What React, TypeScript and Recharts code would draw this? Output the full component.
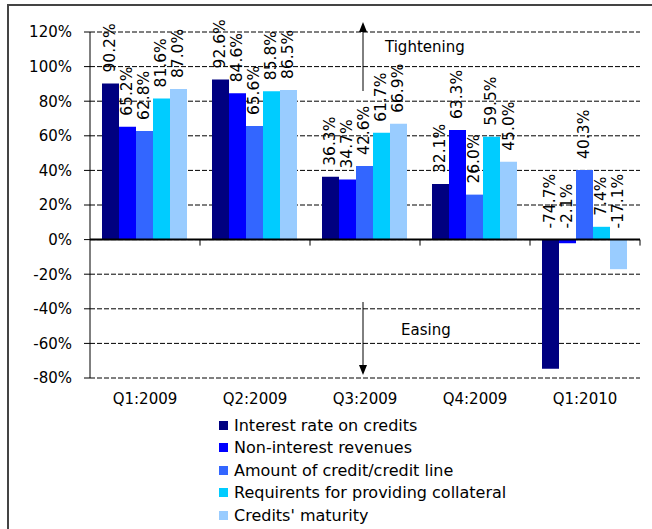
import React from "react";
import {
  BarChart,
  Bar,
  XAxis,
  YAxis,
  CartesianGrid,
  Legend,
  LabelList,
  ReferenceLine,
} from "recharts";

const categories = ["Q1:2009", "Q2:2009", "Q3:2009", "Q4:2009", "Q1:2010"];
const interestRate = [90.2, 92.6, 36.3, 32.1, -74.7];
const nonInterest = [65.2, 84.6, 34.7, 63.3, -2.1];
const creditAmount = [62.8, 65.6, 42.6, 26.0, 40.3];
const collateral = [81.6, 85.8, 61.7, 59.5, 7.4];
const maturity = [87.0, 86.5, 66.9, 45.0, -17.1];
const yTicks = [-80, -60, -40, -20, 0, 20, 40, 60, 80, 100, 120];

const series = [
  { key: "interestRate", name: "Interest rate on credits", color: "#000080" },
  { key: "nonInterest", name: "Non-interest revenues", color: "#0000FF" },
  { key: "creditAmount", name: "Amount of credit/credit line", color: "#3366FF" },
  { key: "collateral", name: "Requirents for providing collateral", color: "#00CCFF" },
  { key: "maturity", name: "Credits' maturity", color: "#99CCFF" },
];

const data = categories.map((name, i) => ({
  name,
  interestRate: interestRate[i],
  nonInterest: nonInterest[i],
  creditAmount: creditAmount[i],
  collateral: collateral[i],
  maturity: maturity[i],
}));

const FONT = "'DejaVu Sans', Verdana, sans-serif";

// rotated value label sitting above the bar (or above the zero line for negatives)
const renderLabel = (props: any) => {
  const { x, y, width, height, value } = props;
  const top = Math.min(Number(y), Number(y) + Number(height));
  const cx = Number(x) + Number(width) / 2;
  const ty = top - 11;
  return (
    <text
      x={cx}
      y={ty}
      transform={`rotate(-90 ${cx} ${ty})`}
      textAnchor="start"
      dominantBaseline="central"
      fontSize={15.5}
      fontFamily={FONT}
      fill="#000"
    >
      {`${Number(value).toFixed(1)}%`}
    </text>
  );
};

// zero line with category boundary ticks
const ZeroAxis = (props: any) => {
  const { x1, y1, x2 } = props;
  const step = (x2 - x1) / categories.length;
  return (
    <g>
      <line x1={x1} y1={y1} x2={x2} y2={y1} stroke="#000" strokeWidth={2} />
      {categories.map((_, i) => (
        <line key={i} x1={x1 + step * (i + 1)} y1={y1} x2={x1 + step * (i + 1)} y2={y1 + 6} stroke="#000" />
      ))}
    </g>
  );
};

const renderLegend = (props: any) => {
  const order = series.map((s) => s.name);
  const payload = [...(props.payload || [])].sort(
    (a: any, b: any) => order.indexOf(a.value) - order.indexOf(b.value)
  );
  return (
    <div style={{ fontFamily: FONT, fontSize: 16, color: "#000" }}>
      {payload.map((entry: any, i: number) => (
        <div key={i} style={{ display: "flex", alignItems: "center", height: 22.5 }}>
          <span style={{ display: "inline-block", width: 9, height: 9, background: entry.color, marginRight: 6 }} />
          <span>{entry.value}</span>
        </div>
      ))}
    </div>
  );
};

export default function App() {
  return (
    <div style={{ position: "absolute", left: 0, top: 0, width: 652, height: 529, background: "#fff" }}>
      <div style={{ position: "absolute", left: 7, top: 4, width: 645, height: 2, background: "#444" }} />
      <div style={{ position: "absolute", left: 7, top: 4, width: 2, height: 525, background: "#444" }} />
      <BarChart
        width={652}
        height={529}
        data={data}
        margin={{ top: 32, right: 12, left: 30, bottom: 121 }}
        barCategoryGap={12}
        barGap={0}
        style={{ fontFamily: FONT }}
      >
        <CartesianGrid vertical={false} stroke="#000" strokeDasharray="5 2" />
        <XAxis
          dataKey="name"
          height={30}
          axisLine={false}
          tickLine={false}
          tickSize={0}
          tickMargin={15}
          tick={{ fontSize: 15, fill: "#000", fontFamily: FONT }}
        />
        <YAxis
          type="number"
          domain={[-80, 120]}
          ticks={yTicks}
          width={60}
          tickSize={6}
          tickMargin={12}
          axisLine={{ stroke: "#000" }}
          tickLine={{ stroke: "#000" }}
          tickFormatter={(v) => `${v}%`}
          tick={{ fontSize: 15, fill: "#000", fontFamily: FONT }}
          interval={0}
        />
        <Legend
          layout="vertical"
          verticalAlign="middle"
          align="center"
          content={renderLegend}
          wrapperStyle={{ left: 219, top: 414, width: "auto" }}
        />
        {series.map((s) => (
          <Bar key={s.key} dataKey={s.key} name={s.name} fill={s.color} isAnimationActive={false}>
            <LabelList dataKey={s.key} content={renderLabel} />
          </Bar>
        ))}
        <ReferenceLine y={0} shape={ZeroAxis} />
        <g>
          <line x1={363} y1={91} x2={363} y2={30} stroke="#000" />
          <polygon points="363,22 359,32 367,32" fill="#000" />
          <text x={385} y={52} fontSize={15} fontFamily={FONT} fill="#000">Tightening</text>
          <line x1={363} y1={302} x2={363} y2={367} stroke="#000" />
          <polygon points="363,375 359,365 367,365" fill="#000" />
          <text x={401} y={335} fontSize={15} fontFamily={FONT} fill="#000">Easing</text>
        </g>
      </BarChart>
    </div>
  );
}
